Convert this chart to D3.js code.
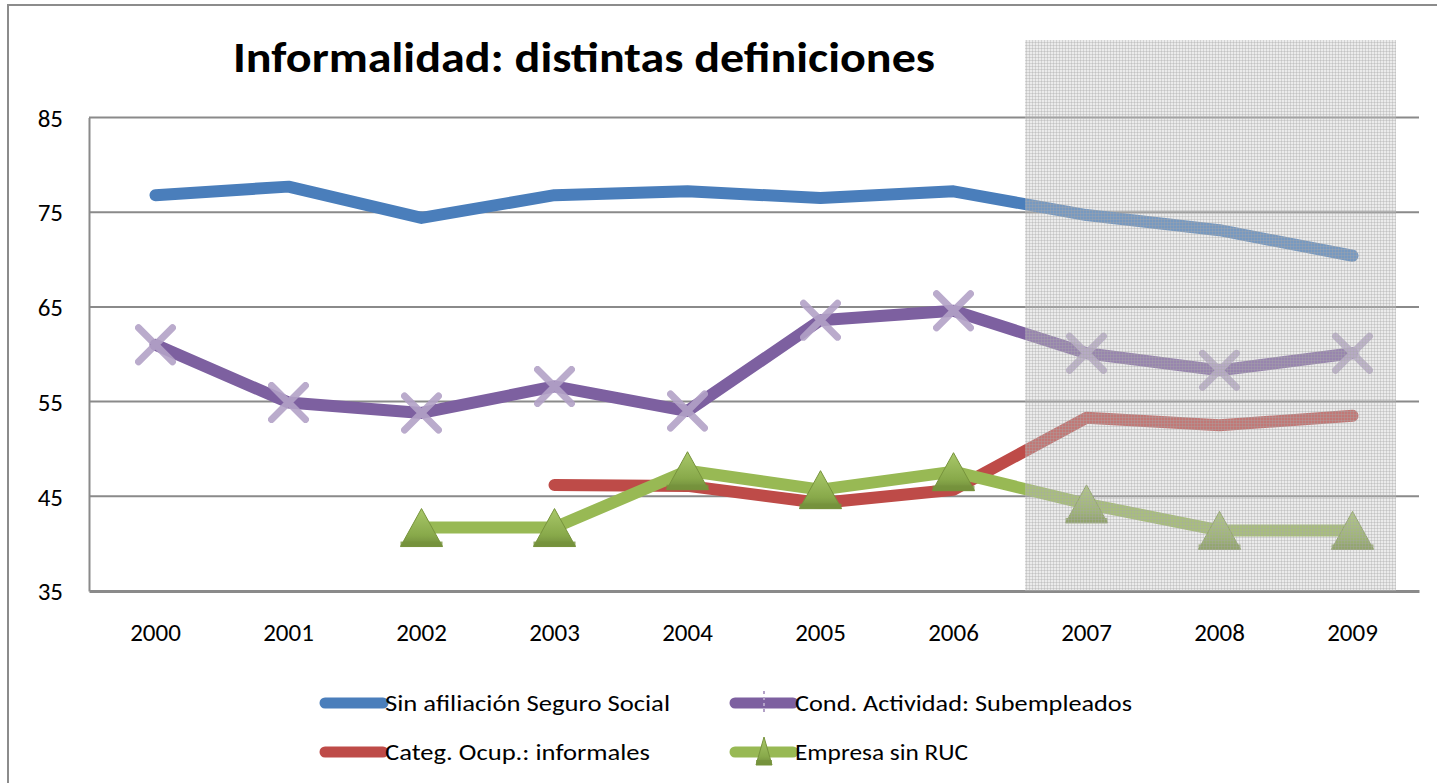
<!DOCTYPE html>
<html>
<head>
<meta charset="utf-8">
<script src="https://cdn.jsdelivr.net/npm/d3@7"></script>
<style>
  body { margin: 0; background: #fff; }
  text { font-family: Carlito, Lato, "Open Sans", sans-serif; fill: #000; }
</style>
</head>
<body>
<div id="chart"></div>
<script>
const years = ["2000","2001","2002","2003","2004","2005","2006","2007","2008","2009"];
const sinAfiliacion = [76.8, 77.7, 74.4, 76.8, 77.2, 76.5, 77.2, 74.7, 73.1, 70.4];
const subempleados  = [61.0, 54.9, 53.8, 56.6, 54.0, 63.6, 64.6, 60.1, 58.3, 60.1];
const informales    = [null, null, null, 46.2, 46.1, 44.3, 45.7, 53.3, 52.5, 53.5];
const sinRuc        = [null, null, 41.7, 41.7, 47.7, 45.7, 47.6, 44.2, 41.4, 41.4];
const yTicks = [35, 45, 55, 65, 75, 85];
const shadedFrom = "2007";

const seriesNames = ["Sin afiliación  Seguro Social", "Cond. Actividad: Subempleados",
                     "Categ. Ocup.: informales", "Empresa sin RUC"];

const w = 1437, h = 783;
const pLeft = 89, pRight = 1419, pTop = 117.5, pBottom = 591;

const svg = d3.select("#chart").append("svg")
  .attr("width", w).attr("height", h);

const defs = svg.append("defs");
const pat = defs.append("pattern")
  .attr("id", "hatch").attr("patternUnits", "userSpaceOnUse")
  .attr("width", 3).attr("height", 3);
pat.append("rect").attr("width", 3).attr("height", 3).attr("fill", "rgba(200,200,200,0.36)");
pat.append("rect").attr("width", 3).attr("height", 1).attr("fill", "rgba(165,165,165,0.35)");
pat.append("rect").attr("width", 1).attr("height", 3).attr("fill", "rgba(165,165,165,0.35)");

const grad = defs.append("linearGradient").attr("id", "tri")
  .attr("x1", 0).attr("y1", 0).attr("x2", 0).attr("y2", 1);
grad.append("stop").attr("offset", "0%").attr("stop-color", "#a9c86a");
grad.append("stop").attr("offset", "70%").attr("stop-color", "#88a94a");
grad.append("stop").attr("offset", "100%").attr("stop-color", "#6f8a3a");

defs.append("filter").attr("id", "soft")
  .append("feGaussianBlur").attr("stdDeviation", 0.7);

// outer frame
svg.append("rect")
  .attr("x", 8).attr("y", 5).attr("width", 1450).attr("height", 800)
  .attr("fill", "none").attr("stroke", "#8c8c8c").attr("stroke-width", 2);

const x = d3.scaleBand().domain(years).range([pLeft, pRight]);
const y = d3.scaleLinear().domain([35, 85]).range([pBottom, pTop]);
const cx = d => x(d) + x.bandwidth() / 2;

// gridlines
svg.append("g")
  .selectAll("line").data(yTicks.slice(1)).enter().append("line")
  .attr("x1", pLeft).attr("x2", pRight)
  .attr("y1", d => y(d)).attr("y2", d => y(d))
  .attr("stroke", "#8a8a8a").attr("stroke-width", 2);

// axes
const yAxis = d3.axisLeft(y).tickValues(yTicks).tickSize(0).tickPadding(26);
svg.append("g").attr("transform", `translate(${pLeft},0)`).call(yAxis)
  .call(g => g.select(".domain").attr("stroke", "#8a8a8a").attr("stroke-width", 2))
  .call(g => g.selectAll("text").style("font-size", "25px").attr("dy", "0.35em"));

const xAxis = d3.axisBottom(x).tickSize(0).tickPadding(32);
svg.append("g").attr("transform", `translate(0,${pBottom})`).call(xAxis)
  .call(g => g.select(".domain").attr("stroke", "#8a8a8a").attr("stroke-width", 3))
  .call(g => g.selectAll("text").style("font-size", "25px"));

// series
const series = [
  {name: seriesNames[0], values: sinAfiliacion, color: "#4a7ebb", marker: null},
  {name: seriesNames[1], values: subempleados, color: "#7d60a0", marker: "x"},
  {name: seriesNames[2], values: informales, color: "#be4b48", marker: null},
  {name: seriesNames[3], values: sinRuc, color: "#98b954", marker: "tri"}
];

const line = d3.line()
  .defined(d => d.v != null)
  .x(d => cx(d.year)).y(d => y(d.v));

const drawX = (g, px, py, s) => {
  g.append("path")
    .attr("d", `M${px - s},${py - s}L${px + s},${py + s}M${px - s},${py + s}L${px + s},${py - s}`)
    .attr("stroke", "#b3a2c7").attr("stroke-width", 7).attr("stroke-linecap", "round")
    .attr("opacity", 0.9).attr("filter", "url(#soft)");
};
const drawTri = (g, px, py, hw, hh) => {
  g.append("path")
    .attr("d", `M${px},${py - hh}L${px + hw},${py + hh}L${px - hw},${py + hh}Z`)
    .attr("fill", "url(#tri)").attr("stroke", "#77933c").attr("stroke-width", 1);
  g.append("rect")
    .attr("x", px - hw).attr("y", py + hh - 5).attr("width", hw * 2).attr("height", 5)
    .attr("fill", "#76923c").attr("opacity", 0.8);
};

const plot = svg.append("g");
series.forEach(s => {
  const pts = years.map((yr, i) => ({year: yr, v: s.values[i]}));
  plot.append("path").datum(pts)
    .attr("d", line)
    .attr("fill", "none").attr("stroke", s.color).attr("stroke-width", 12)
    .attr("stroke-linecap", "round").attr("stroke-linejoin", "round");
  if (s.marker) {
    const mg = plot.append("g");
    pts.filter(p => p.v != null).forEach(p => {
      if (s.marker === "x") drawX(mg, cx(p.year), y(p.v), 17);
      else drawTri(mg, cx(p.year), y(p.v), 21, 19);
    });
  }
});

// shaded projection area
svg.append("rect")
  .attr("x", x(shadedFrom) + 5).attr("y", 40)
  .attr("width", 371).attr("height", pBottom - 40)
  .attr("fill", "url(#hatch)");

// title
svg.append("text")
  .attr("x", 584).attr("y", 72).attr("text-anchor", "middle")
  .attr("textLength", 702).attr("lengthAdjust", "spacingAndGlyphs")
  .style("font-size", "42px").style("font-weight", "bold")
  .text("Informalidad: distintas definiciones");

// legend
const legendPos = [[325, 703, 285], [735, 703, 337], [325, 752, 265], [735, 752, 173]];
const legend = svg.append("g");
series.forEach((s, i) => {
  const [lx, ly, tl] = legendPos[i];
  const lg = legend.append("g");
  lg.append("line")
    .attr("x1", lx).attr("x2", lx + 58).attr("y1", ly).attr("y2", ly)
    .attr("stroke", s.color).attr("stroke-width", 11).attr("stroke-linecap", "round");
  if (s.marker === "x") {
    lg.append("path")
      .attr("d", `M${lx + 29},${ly - 12}L${lx + 29},${ly + 12}`)
      .attr("stroke", "#b3a2c7").attr("stroke-width", 2).attr("stroke-dasharray", "3,3");
  } else if (s.marker === "tri") {
    drawTri(lg, lx + 29, ly - 1, 8, 14);
  }
  lg.append("text")
    .attr("x", lx + 60).attr("y", ly).attr("dy", "0.35em")
    .attr("textLength", tl).attr("lengthAdjust", "spacingAndGlyphs")
    .style("font-size", "23px")
    .text(s.name);
});
</script>
</body>
</html>
